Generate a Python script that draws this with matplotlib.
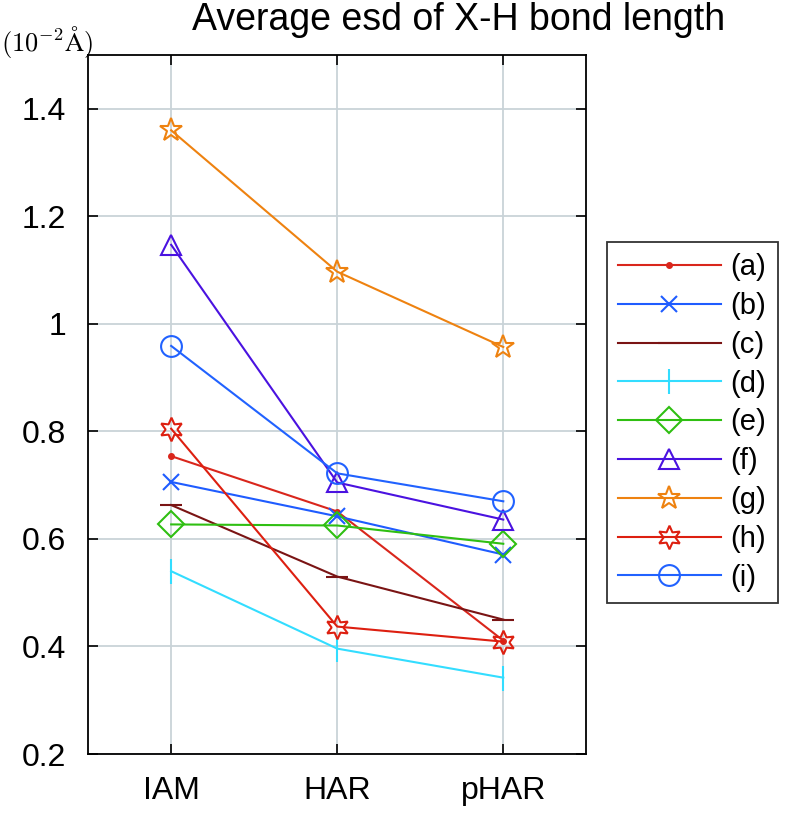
import matplotlib
matplotlib.use('Agg')
import matplotlib.pyplot as plt

# methods on the x axis
methods = ['IAM', 'HAR', 'pHAR']

# average esd values (10^-2 A)
a = [0.754, 0.651, 0.411]
b = [0.706, 0.642, 0.571]
c = [0.663, 0.530, 0.450]
d = [0.540, 0.396, 0.342]
e = [0.627, 0.625, 0.591]
f = [1.147, 0.705, 0.636]
g = [1.360, 1.097, 0.957]
h = [0.805, 0.437, 0.409]
i = [0.959, 0.722, 0.670]

labels = ['(a)', '(b)', '(c)', '(d)', '(e)', '(f)', '(g)', '(h)', '(i)']
series = [a, b, c, d, e, f, g, h, i]
colors = ['#d9261c', '#1f5cff', '#7a1414', '#33ddff', '#2fbf12',
          '#4a12e0', '#ee8210', '#dd1f10', '#2162ff']
markers = ['.', 'x', '_', '|', 'D', '^', '*', (6, 1, 0), 'o']
sizes = [8, 12, 16, 18, 13, 15, 17, 17, 15]

plt.rcParams['font.family'] = ['Liberation Sans', 'DejaVu Sans']
plt.rcParams['mathtext.fontset'] = 'cm'

fig = plt.figure(figsize=(7.87, 8.14), dpi=100)
ax = fig.add_axes([0.112, 0.0737, 0.633, 0.8587])

x = list(range(1, len(methods) + 1))
for vals, lab, col, mk, ms in zip(series, labels, colors, markers, sizes):
    ax.plot(x, vals, color=col, marker=mk, markersize=ms, label=lab,
            linewidth=1.5, markerfacecolor='none', markeredgecolor=col,
            markeredgewidth=1.5 if mk != '.' else 1.0)
# the dot marker of (a) is filled
ax.lines[0].set_markerfacecolor(colors[0])

ax.set_xlim(0.5, 3.5)
ax.set_ylim(0.2, 1.5)
ax.set_xticks(x)
ax.set_xticklabels(methods)
ax.set_yticks([0.2, 0.4, 0.6, 0.8, 1.0, 1.2, 1.4])
ax.set_yticklabels(['0.2', '0.4', '0.6', '0.8', '1', '1.2', '1.4'])
ax.tick_params(direction='in', top=True, right=True, length=7, width=1.2,
               labelsize=23)
ax.tick_params(axis='y', pad=16)
ax.tick_params(axis='x', pad=16)
ax.grid(True, color='#c9d3d8', linewidth=1.3)
ax.set_axisbelow(True)
for sp in ax.spines.values():
    sp.set_linewidth(1.3)

fig.text(0.583, 0.976, 'Average esd of X-H bond length', fontsize=27,
         ha='center', va='center')
fig.text(0.001, 0.949, r'$(10^{-2}\mathrm{\AA})$', fontsize=19, ha='left', va='center')

leg = ax.legend(loc='center left', bbox_to_anchor=(0.771, 0.481),
                bbox_transform=fig.transFigure, fontsize=21, frameon=True,
                fancybox=False, handlelength=3.5, labelspacing=0.37,
                borderpad=0.4, handletextpad=0.35, borderaxespad=0)
leg.get_frame().set_edgecolor('black')
leg.get_frame().set_linewidth(1.3)

plt.savefig('out.png', dpi=100)
